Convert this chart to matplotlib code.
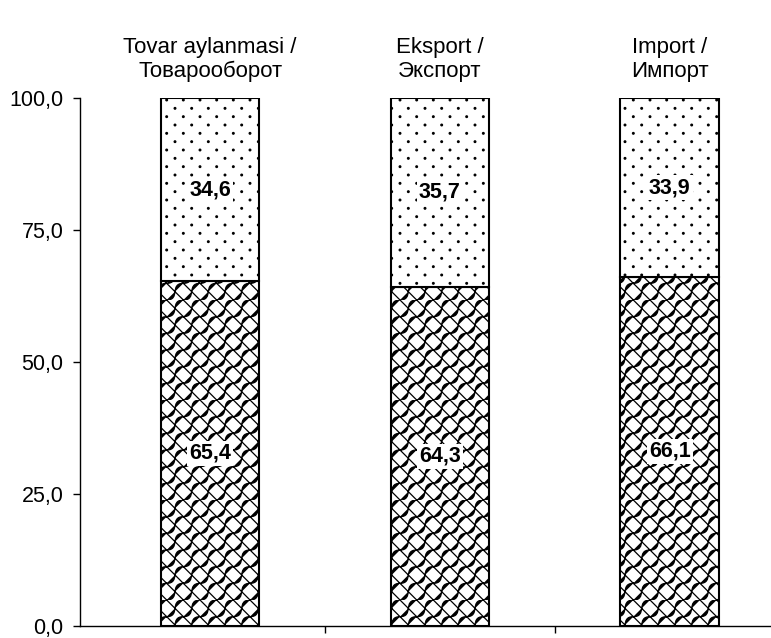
import warnings
import numpy as np
import matplotlib
matplotlib.use("Agg")
import matplotlib.pyplot as plt
import matplotlib.hatch as mhatch
from matplotlib.path import Path
from matplotlib.ticker import FuncFormatter, FixedLocator

warnings.filterwarnings("ignore")

# ---- data ----
categories = ["Tovar aylanmasi /\nТоварооборот", "Eksport /\nЭкспорт", "Import /\nИмпорт"]
lower_share = [65.4, 64.3, 66.1]
upper_share = [34.6, 35.7, 33.9]
y_ticks = [0, 25, 50, 75, 100]


# ---- custom hatch patterns (staggered dots and shingle scales) ----
def _dots_path():
    circ = Path.unit_circle()
    parts = []
    r = 0.0085
    for k in range(13):
        y = k / 12.0
        if k % 2 == 0:
            xs = [j / 6.0 for j in range(7)]
        else:
            xs = [(j + 0.5) / 6.0 for j in range(6)]
        for x in xs:
            parts.append(Path(circ.vertices * r + [x, y], circ.codes))
    return Path.make_compound_path(*parts)


def _shingle_path():
    P = 1.0 / 6.0
    verts, codes = [], []
    for i in range(6):
        for j in range(6):
            x0, y0 = i * P, j * P
            # straight "\" stroke
            verts += [(x0, y0 + P), (x0 + P, y0)]
            codes += [Path.MOVETO, Path.LINETO]
            # curved "/" S-stroke
            verts += [(x0, y0), (x0 + 0.85 * P, y0 + 0.0 * P),
                      (x0 + 0.15 * P, y0 + 1.0 * P), (x0 + P, y0 + P)]
            codes += [Path.MOVETO, Path.CURVE4, Path.CURVE4, Path.CURVE4]
    return Path(np.array(verts), np.array(codes, dtype=Path.code_type))


class _CustomHatch(mhatch.HatchPatternBase):
    char = None
    builder = None

    def __init__(self, hatch, density):
        if hatch is not None and self.char in hatch:
            self.path = type(self).builder()
            self.num_vertices = len(self.path.vertices)
        else:
            self.path = None
            self.num_vertices = 0

    def set_vertices_and_codes(self, vertices, codes):
        vertices[:] = self.path.vertices
        codes[:] = self.path.codes


class DotHatch(_CustomHatch):
    char = "D"
    builder = staticmethod(_dots_path)


class ShingleHatch(_CustomHatch):
    char = "S"
    builder = staticmethod(_shingle_path)


mhatch._hatch_types.extend([DotHatch, ShingleHatch])

plt.rcParams["font.family"] = ["Liberation Sans", "DejaVu Sans"]
plt.rcParams["hatch.linewidth"] = 0.9

fig = plt.figure(figsize=(7.71, 6.38), dpi=100)
ax = fig.add_axes([0.104, 0.019, 0.896, 0.827])

x = np.arange(len(categories))
width = 0.43
b1 = ax.bar(x, lower_share, width, color="white", edgecolor="black",
            linewidth=1.5, hatch="S")
b2 = ax.bar(x, upper_share, width, bottom=lower_share, color="white",
            edgecolor="black", linewidth=1.5, hatch="D")

for xi, lo, up in zip(x, lower_share, upper_share):
    for yc, v in ((lo / 2, lo), (lo + up / 2, up)):
        ax.text(xi, yc, f"{v:.1f}".replace(".", ","), ha="center", va="center",
                fontsize=15.5, fontweight="bold",
                bbox=dict(facecolor="white", edgecolor="none", pad=1.5))

ax.set_xlim(-0.565, 2.44)
ax.set_ylim(0, 100)
ax.yaxis.set_major_locator(FixedLocator(y_ticks))
ax.yaxis.set_major_formatter(FuncFormatter(lambda v, p: f"{v:.1f}".replace(".", ",")))
ax.tick_params(axis="y", length=5, width=1, pad=7, labelsize=15.5)

ax.set_xticks([0.5, 1.5])
ax.set_xticklabels([])
ax.tick_params(axis="x", length=5, width=1, direction="out")

for s in ("top", "right"):
    ax.spines[s].set_visible(False)
ax.spines["left"].set_linewidth(1.0)
ax.spines["bottom"].set_linewidth(1.0)

top = ax.secondary_xaxis("top")
top.set_xticks(x)
top.set_xticklabels(categories, fontsize=16, linespacing=1.15)
top.tick_params(length=0, pad=12)
top.spines["top"].set_visible(False)

fig.savefig("out.png", dpi=100)
